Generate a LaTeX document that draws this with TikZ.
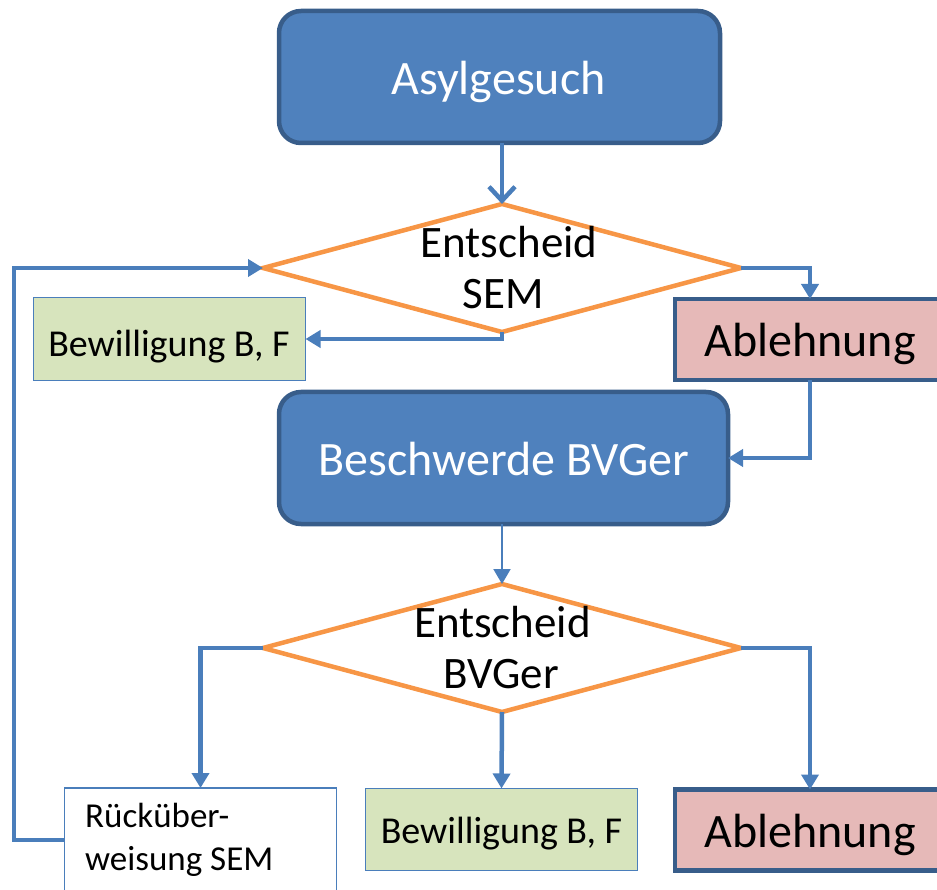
\documentclass[tikz,border=0pt]{standalone}
\usepackage{fontspec}
\setmainfont{Carlito}
\usetikzlibrary{arrows.meta,shapes.geometric}
\definecolor{bfill}{HTML}{4F81BD}
\definecolor{bdark}{HTML}{385D8A}
\definecolor{conn}{HTML}{4A7EBB}
\definecolor{dorange}{HTML}{F79646}
\definecolor{gfill}{HTML}{D7E4BD}
\definecolor{pfill}{HTML}{E6B9B8}
\begin{document}
\begin{tikzpicture}[x=1pt,y=-1pt,
  bigbox/.style={draw=bdark, line width=4.5pt, fill=bfill, rounded corners=22pt, inner sep=0pt, outer sep=0pt},
  resbox/.style={draw=bdark, line width=4.5pt, fill=pfill, inner sep=0pt, outer sep=0pt},
  okbox/.style={draw=conn, line width=1.5pt, fill=gfill, inner sep=0pt, outer sep=0pt},
  backbox/.style={draw=conn, line width=1.5pt, fill=white, inner sep=0pt, outer sep=0pt},
  decision/.style={diamond, draw=dorange, line width=4.5pt, fill=white, inner sep=0pt, outer sep=0pt, minimum width=478pt, minimum height=128pt},
  txt/.style={inner sep=0pt, anchor=base},
  bigtxt/.style={txt, font=\fontsize{48}{58}\selectfont},
  midtxt/.style={txt, font=\fontsize{45}{54}\selectfont},
  smalltxt/.style={txt, font=\fontsize{35}{42}\selectfont},
  oktxt/.style={txt, font=\fontsize{38}{46}\selectfont},
  link/.style={draw=conn, line width=4.5pt, -{Triangle[length=15pt,width=17pt]}},
  thinlink/.style={draw=conn, line width=2pt, -{Triangle[length=15pt,width=17pt]}},
  barblink/.style={draw=conn, line width=4.5pt, -{Straight Barb[length=14pt,width=26pt]}}
]
\useasboundingbox (0,0) rectangle (937,890);

% boxes
\node[bigbox, minimum width=441pt, minimum height=132pt] (asyl) at (499.5,77) {};
\node[decision] (d1) at (502,268) {};
\node[okbox, minimum width=272pt, minimum height=83pt] (bew1) at (169.5,339) {};
\node[resbox, minimum width=270pt, minimum height=81pt] (abl1) at (810,339.5) {};
\node[bigbox, minimum width=449pt, minimum height=132pt] (besch) at (503.5,458) {};
\node[decision] (d2) at (502,648) {};
\node[backbox, minimum width=272pt, minimum height=104pt] (rueck) at (200.5,840) {};
\node[okbox, minimum width=272pt, minimum height=82pt] (bew2) at (501.5,829.5) {};
\node[resbox, minimum width=270pt, minimum height=81pt] (abl2) at (810,830) {};

% texts
\node[bigtxt, text=white] (asylt) at (498.5,95) {Asylgesuch};
\node[midtxt] (d1a) at (509,258) {Entscheid};
\node[midtxt] (d1b) at (503,309) {SEM};
\node[oktxt] (bew1t) at (169,357) {Bewilligung B, F};
\node[bigtxt] (abl1t) at (810,357) {Ablehnung};
\node[bigtxt, text=white] (pescht) at (504,475) {Beschwerde BVGer};
\node[midtxt] (d2a) at (502.5,637) {Entscheid};
\node[midtxt] (d2b) at (501,688) {BVGer};
\node[smalltxt, anchor=base west] (r1) at (85,827) {Rücküber-};
\node[smalltxt, anchor=base west] (r2) at (85,870) {weisung SEM};
\node[oktxt] (bew2t) at (501.5,843) {Bewilligung B, F};
\node[bigtxt] (abl2t) at (810,847) {Ablehnung};

% connectors
\coordinate (loop) at (14,840);
\draw[barblink] (asyl.south -| d1.north) -- (d1.north);
\draw[link] (d1.east) -| (abl1.north);
\draw[link] (d1.south) |- (bew1.east);
\draw[link] (abl1.south) |- (besch.east);
\draw[thinlink] (besch.south -| d2.north) -- (d2.north);
\draw[link] (d2.west) -| (rueck.north);
\draw[link] (d2.south) -- (bew2.north);
\draw[link] (d2.east) -| (abl2.north);
\draw[link] (rueck.west) -- (loop) |- (d1.west);
\end{tikzpicture}
\end{document}
